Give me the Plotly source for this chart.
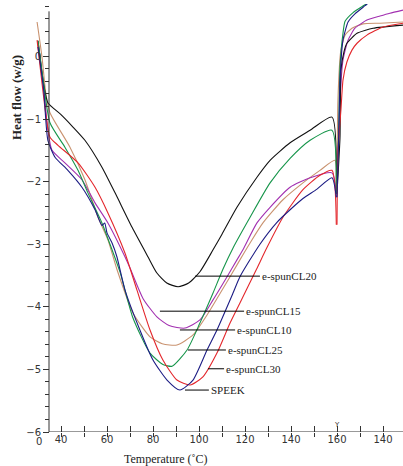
import plotly.graph_objects as go

# ---------------- data ----------------
# Heating segment: temperature (°C) and heat flow (W/g)
speek_T_heat = [30.0, 32.5, 34.3, 37.4, 43.0, 49.1, 54.8, 57.8, 59.0, 60.0, 62.2, 64.3, 67.8, 74.3, 80.0, 86.1,
                91.7, 97.4, 103.5, 107.8, 114.8, 117.8, 126.5, 133.9, 139.6, 145.2, 151.3, 157.8, 159.7]
speek_hf_heat = [0.15, -0.55, -1.34, -1.61, -1.82, -2.09, -2.45, -2.70, -2.66, -2.82, -2.98, -3.20, -3.73, -4.37,
                 -4.85, -5.17, -5.33, -5.17, -4.69, -4.37, -3.78, -3.52, -3.00, -2.65, -2.45, -2.27, -2.12, -1.94, -2.25]

cl20_T_heat = [30.0, 32.5, 34.3, 40.0, 45.0, 50.4, 57.8, 63.5, 70.9, 77.8, 81.7, 86.0, 90.9, 95.5, 100.4, 106.1,
               110.0, 116.5, 125.2, 130.9, 139.6, 148.3, 157.8, 159.7]
cl20_hf_heat = [0.25, -0.45, -0.74, -0.93, -1.12, -1.34, -1.77, -2.18, -2.73, -3.20, -3.46, -3.62, -3.68, -3.62,
                -3.44, -3.09, -2.84, -2.41, -1.93, -1.66, -1.38, -1.18, -0.97, -2.18]

cl25_T_heat = [30.0, 32.5, 35.2, 41.7, 47.4, 51.7, 57.8, 61.3, 65.7, 71.3, 78.7, 84.3, 88.3, 94.8, 100.4, 106.1,
               110.4, 114.8, 122.2, 130.9, 139.6, 148.3, 157.8, 159.7]
cl25_hf_heat = [0.25, -0.45, -1.06, -1.45, -1.82, -2.18, -2.66, -3.00, -3.45, -4.18, -4.74, -4.92, -4.95, -4.69,
                -4.26, -3.78, -3.40, -3.06, -2.57, -2.02, -1.63, -1.34, -1.18, -2.20]

cl30_T_heat = [29.6, 31.5, 33.5, 35.2, 38.7, 47.4, 54.8, 60.4, 67.8, 73.0, 78.7, 84.3, 90.4, 96.1, 101.7, 107.8,
               113.5, 117.8, 125.0, 129.6, 136.5, 145.2, 152.6, 157.8, 159.7]
cl30_hf_heat = [0.26, -0.35, -0.95, -1.29, -1.42, -1.70, -2.09, -2.50, -3.14, -3.73, -4.37, -4.85, -5.17, -5.25,
                -5.12, -4.74, -4.26, -3.94, -3.40, -3.05, -2.57, -2.13, -1.90, -1.82, -2.69]

cl15_T_heat = [30.0, 32.5, 34.3, 36.1, 41.7, 49.1, 54.8, 60.4, 67.8, 70.0, 75.7, 81.7, 87.0, 93.9, 100.4, 106.1,
               112.2, 116.5, 119.1, 125.2, 130.9, 139.6, 148.3, 157.8, 159.7]
cl15_hf_heat = [0.20, -0.50, -1.18, -1.50, -1.70, -1.97, -2.34, -2.66, -3.20, -3.38, -3.87, -4.16, -4.30, -4.34,
                -4.21, -3.89, -3.52, -3.25, -3.09, -2.66, -2.41, -2.09, -1.94, -1.86, -2.20]

cl10_T_heat = [29.6, 31.7, 33.5, 35.2, 43.9, 50.4, 56.1, 60.4, 64.3, 71.3, 78.7, 84.0, 90.4, 97.4, 103.5, 108.3,
               113.5, 117.8, 122.2, 127.8, 136.5, 145.2, 152.6, 159.1, 159.7]
cl10_hf_heat = [0.55, 0.00, -0.62, -0.90, -1.45, -1.97, -2.57, -2.93, -3.40, -4.10, -4.48, -4.59, -4.61, -4.45,
                -4.13, -3.84, -3.52, -3.25, -2.98, -2.66, -2.29, -2.02, -1.82, -1.66, -2.10]

# Cooling segment (from 160 °C downwards)
speek_T_cool = [160.0, 159.2, 158.7, 157.4, 155.2, 152.2, 147.8, 144.8, 140.0]
speek_hf_cool = [-2.25, -1.20, -0.38, 0.26, 0.55, 0.68, 0.81, 0.90, 1.00]
cl20_T_cool = [160.0, 158.7, 158.3, 157.0, 155.7, 151.3, 144.3, 131.3]
cl20_hf_cool = [-2.18, -1.30, -0.22, 0.07, 0.21, 0.37, 0.45, 0.50]
cl25_T_cool = [160.0, 159.2, 158.7, 157.4, 156.5, 153.0, 148.0, 144.8, 140.0]
cl25_hf_cool = [-2.20, -1.10, -0.17, 0.37, 0.56, 0.70, 0.82, 0.90, 1.00]
cl30_T_cool = [160.0, 159.6, 158.3, 157.4, 155.7, 153.5, 151.3, 147.0, 140.0, 131.3]
cl30_hf_cool = [-2.69, -1.50, -0.86, -0.38, -0.09, 0.10, 0.21, 0.34, 0.47, 0.53]
cl15_T_cool = [160.0, 158.7, 157.4, 155.2, 152.2, 147.0, 141.3, 137.0, 131.3]
cl15_hf_cool = [-2.20, -0.70, -0.06, 0.26, 0.45, 0.58, 0.645, 0.69, 0.74]
cl10_T_cool = [160.0, 159.6, 158.3, 156.5, 153.5, 148.7, 141.3, 131.3]
cl10_hf_cool = [-2.10, -0.70, 0.10, 0.34, 0.45, 0.52, 0.53, 0.55]

series_names = ["SPEEK", "e-spunCL20", "e-spunCL25", "e-spunCL30", "e-spunCL15", "e-spunCL10"]
series_colors = ["#1c1c84", "#111111", "#16954a", "#e3262b", "#a22fb0", "#c9926f"]

x_tick_vals = [40, 60, 80, 100, 120, 140, 160, 180]
x_tick_text = ["40", "60", "80", "100", "120", "140", "160", "140"]
x_minor_vals = [50, 70, 90, 110, 130, 150, 170]

# label text, level (heat flow) and horizontal extent (°C) of its leader line
label_text = ["e-spunCL20", "e-spunCL15", "e-spunCL10", "e-spunCL25", "e-spunCL30", "SPEEK"]
label_hf = [-3.51, -4.07, -4.37, -4.69, -4.99, -5.33]
label_T0 = [98.3, 83.0, 91.7, 95.2, 103.9, 93.9]
label_T1 = [126.5, 119.6, 115.7, 111.7, 110.9, 104.3]

TURN = 160.0  # heating -> cooling turning point


def cool_axis(T):
    # broken axis: after 160 °C the axis continues with the cooling run
    return [2 * TURN - t for t in T]


heat = [(speek_T_heat, speek_hf_heat), (cl20_T_heat, cl20_hf_heat), (cl25_T_heat, cl25_hf_heat),
        (cl30_T_heat, cl30_hf_heat), (cl15_T_heat, cl15_hf_heat), (cl10_T_heat, cl10_hf_heat)]
cool = [(speek_T_cool, speek_hf_cool), (cl20_T_cool, cl20_hf_cool), (cl25_T_cool, cl25_hf_cool),
        (cl30_T_cool, cl30_hf_cool), (cl15_T_cool, cl15_hf_cool), (cl10_T_cool, cl10_hf_cool)]

fig = go.Figure()
order = [5, 4, 1, 2, 3, 0]
for i in order:
    c = series_colors[i]
    fig.add_trace(go.Scatter(x=heat[i][0], y=heat[i][1], mode="lines",
                             line=dict(color=c, width=1.1, shape="spline", smoothing=0.6),
                             name=series_names[i], showlegend=False, hoverinfo="skip"))
    fig.add_trace(go.Scatter(x=cool_axis(cool[i][0]), y=cool[i][1], mode="lines",
                             line=dict(color=c, width=1.1, shape="spline", smoothing=0.5),
                             showlegend=False, hoverinfo="skip"))
# overlay axis for the downward half of the crossing ticks
fig.add_trace(go.Scatter(x=[], y=[], xaxis="x2", showlegend=False))

W, H = 403, 466
L_PX, AX_PX, R_PX = 30, 49, 403
TOP_PX, BOT_PX = 4, 432
PX_PER_DEG = 2.3
x0 = 40 + (L_PX - 61) / PX_PER_DEG
x1 = 40 + (R_PX - 61) / PX_PER_DEG
ax_x = 40 + (AX_PX - 61) / PX_PER_DEG
y_lo = -6.0
y_hi = y_lo + (BOT_PX - TOP_PX) / 62.6

tickfont = dict(family="DejaVu Sans", size=10, color="#333333")
axis_col = "#333333"

fig.update_layout(
    width=W, height=H, margin=dict(l=0, r=0, t=TOP_PX, b=H - BOT_PX),
    paper_bgcolor="white", plot_bgcolor="white",
    xaxis=dict(domain=[L_PX / W, 1], range=[x0, x1], showgrid=False, zeroline=False, showline=False,
               tickmode="array", tickvals=x_tick_vals, ticktext=x_tick_text,
               ticks="inside", ticklen=6, tickcolor=axis_col, tickwidth=1, tickfont=tickfont,
               minor=dict(tickvals=x_minor_vals, ticks="inside", ticklen=6, tickcolor=axis_col),
               anchor="y"),
    xaxis2=dict(domain=[L_PX / W, 1], range=[x0, x1], overlaying="x", anchor="y", side="bottom",
                showgrid=False, zeroline=False, showline=False, showticklabels=False,
                tickmode="array", tickvals=x_tick_vals, ticks="outside", ticklen=4, tickcolor=axis_col,
                minor=dict(tickvals=x_minor_vals, ticks="outside", ticklen=4, tickcolor=axis_col)),
    yaxis=dict(range=[y_lo, y_hi], anchor="free", position=AX_PX / W, showgrid=False, zeroline=False,
               showline=False, tickmode="array", tickvals=[-6, -5, -4, -3, -2, -1, 0],
               ticks="outside", ticklen=6, tickcolor=axis_col, tickfont=tickfont,
               minor=dict(dtick=0.2, tick0=0, ticks="outside", ticklen=4, tickcolor=axis_col)),
)

# axis lines
fig.add_shape(type="line", x0=ax_x, x1=ax_x, y0=y_lo, y1=0.72, line=dict(color=axis_col, width=1))
fig.add_shape(type="line", x0=ax_x, x1=x1, y0=y_lo, y1=y_lo, line=dict(color=axis_col, width=1))

# curve labels with leader lines
for txt, hf, t0, t1 in zip(label_text, label_hf, label_T0, label_T1):
    fig.add_shape(type="line", x0=t0, x1=t1, y0=hf, y1=hf, line=dict(color="black", width=1))
    fig.add_annotation(x=t1, y=hf, text=txt, showarrow=False, xanchor="left", yanchor="middle",
                       font=dict(family="Liberation Serif", size=11, color="#222222"))

# axis titles and extra tick text
fig.add_annotation(xref="paper", yref="paper", x=17 / W, y=(BOT_PX - 98) / (BOT_PX - TOP_PX),
                   xanchor="center", yanchor="middle",
                   text="<b>Heat flow (w/g)</b>", textangle=-90, showarrow=False,
                   font=dict(family="Liberation Serif", size=13, color="#222222"))
fig.add_annotation(xref="paper", yref="paper", x=165 / W, y=(BOT_PX - 459) / (BOT_PX - TOP_PX),
                   xanchor="center", yanchor="middle",
                   text="Temperature (˚C)", showarrow=False,
                   font=dict(family="Liberation Serif", size=12, color="#222222"))
fig.add_annotation(x=40 + (39 - 61) / PX_PER_DEG, y=y_lo, yref="y", text="0", showarrow=False,
                   yanchor="top", yshift=-2, font=tickfont)
fig.add_annotation(x=TURN, y=y_lo, text="Y", showarrow=False, yanchor="bottom", yshift=1,
                   font=dict(family="DejaVu Sans", size=7, color="#333333"))

fig.write_html("out.html")
